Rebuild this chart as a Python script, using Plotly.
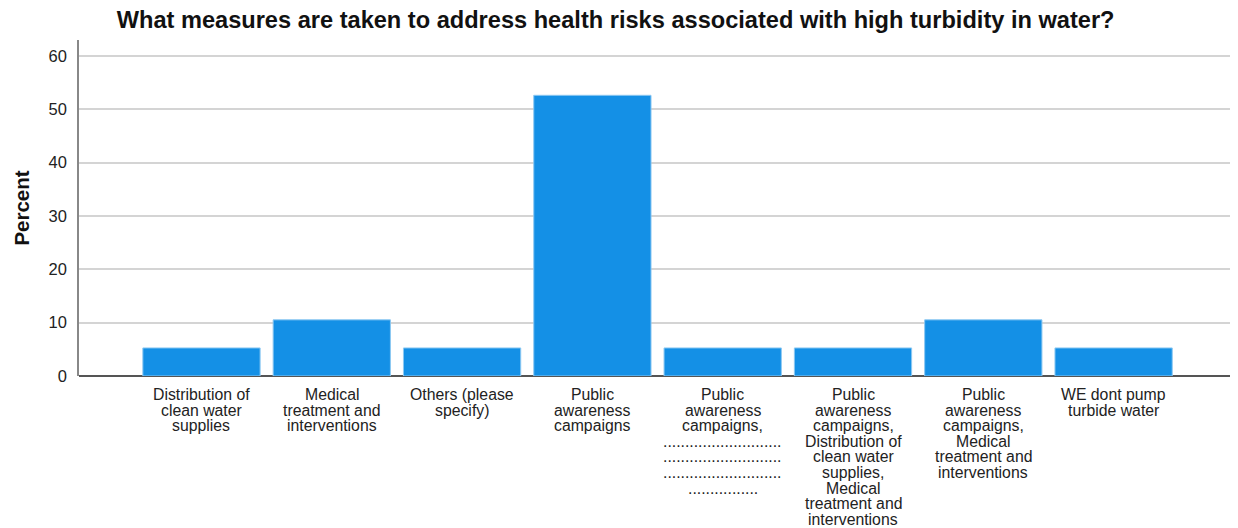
import plotly.graph_objects as go

categories = [
    "Distribution of<br>clean water<br>supplies",
    "Medical<br>treatment and<br>interventions",
    "Others (please<br>specify)",
    "Public<br>awareness<br>campaigns",
    "Public<br>awareness<br>campaigns,<br>" + "." * 27 + "<br>" + "." * 27 + "<br>" + "." * 27 + "<br>" + "." * 16,
    "Public<br>awareness<br>campaigns,<br>Distribution of<br>clean water<br>supplies,<br>Medical<br>treatment and<br>interventions",
    "Public<br>awareness<br>campaigns,<br>Medical<br>treatment and<br>interventions",
    "WE dont pump<br>turbide water",
]
percent = [5.26, 10.53, 5.26, 52.63, 5.26, 5.26, 10.53, 5.26]
y_ticks = [0, 10, 20, 30, 40, 50, 60]

FONT = "Liberation Sans, Arial, sans-serif"
positions = list(range(len(categories)))

fig = go.Figure()
fig.add_trace(go.Bar(
    x=positions,
    y=percent,
    marker=dict(color="#1490e6", line=dict(color="#8cc8f2", width=1)),
    width=0.9,
    hoverinfo="y",
))

annotations = []
for i, lab in enumerate(categories):
    for k, line in enumerate(lab.split("<br>")):
        annotations.append(dict(
            x=i, xref="x", y=0, yref="paper",
            text=line, showarrow=False,
            xanchor="center", yanchor="top",
            yshift=-(8 + 15.6 * k),
            font=dict(family=FONT, size=15.8, color="#222222"),
        ))

# page body has an 8px default margin; figure is sized/offset to compensate
fig.update_layout(
    width=1230, height=520,
    margin=dict(l=71, r=1, t=32, b=152),
    paper_bgcolor="white", plot_bgcolor="white",
    title=dict(
        text="<b>What measures are taken to address health risks associated with high turbidity in water?</b>",
        x=0.494, xanchor="center", y=0.977, yanchor="middle",
        font=dict(family=FONT, size=23.6, color="#111111"),
    ),
    showlegend=False,
    annotations=annotations,
    xaxis=dict(
        range=[-0.94, 7.947],
        showticklabels=False, showgrid=False, zeroline=False,
        showline=False, ticks="",
    ),
    yaxis=dict(
        range=[0, 63], tickvals=y_ticks,
        showgrid=True, gridcolor="#d4d4d4", gridwidth=1.5,
        zeroline=True, zerolinecolor="#555555", zerolinewidth=1.5,
        showline=True, linecolor="#888888", linewidth=1.5,
        ticks="", ticklabelstandoff=7,
        tickfont=dict(family=FONT, size=16.5, color="#222222"),
        title=dict(text="<b>Percent</b>", standoff=13,
                   font=dict(family=FONT, size=20.5, color="#111111")),
    ),
)

fig.write_html("out.html")
